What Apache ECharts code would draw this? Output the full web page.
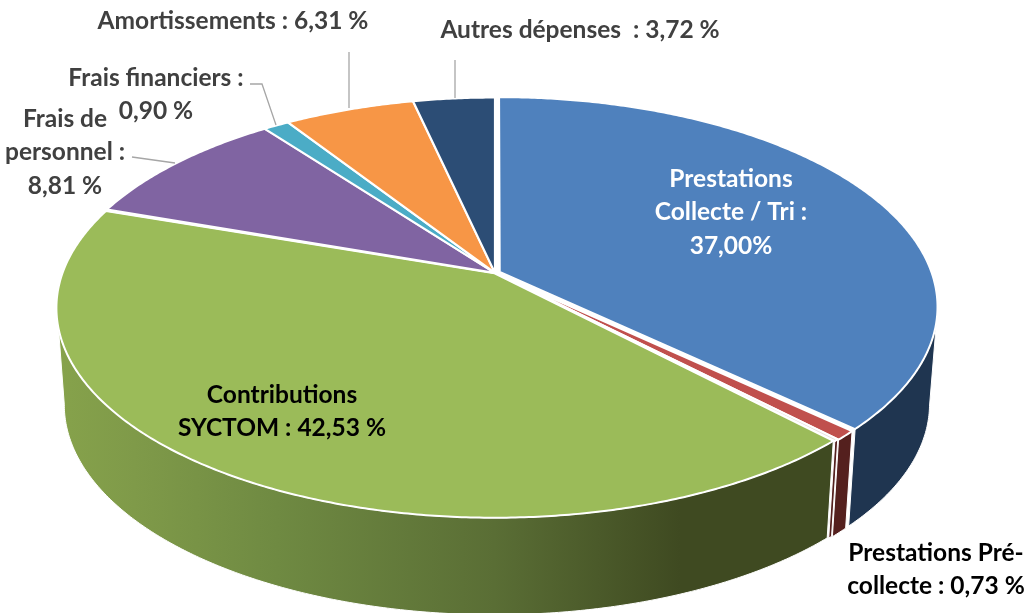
<!DOCTYPE html>
<html><head><meta charset="utf-8">
<style>html,body{margin:0;padding:0;background:#fff}#c{width:1025px;height:613px}</style>
<script src="https://cdn.jsdelivr.net/npm/echarts@6/dist/echarts.min.js"></script>
</head><body><div id="c"></div>
<script>
// ---- data ----
const categories = ['Prestations Collecte / Tri','Prestations Pré-collecte','(fin secteur)','Contributions SYCTOM','(fin secteur)','Frais de personnel','Frais financiers','Amortissements','Autres dépenses'];
const values = [37.00,0.73,0.15,42.53,0.10,8.81,0.90,6.31,3.72];
const labelLines = [
  ['Prestations','Collecte / Tri :','37,00%'],
  ['Contributions','SYCTOM : 42,53 %'],
  ['Prestations Pré-','collecte : 0,73 %'],
  ['Frais de','personnel :','8,81 %'],
  ['Frais financiers :','0,90 %'],
  ['Amortissements : 6,31 %'],
  ['Autres dépenses  : 3,72 %']
];
// ---- styles and layout ----
const topColors  = ['#4f81bd','#c0504d','#e8dcdc','#9bbb59','#e6e6e6','#8064a2','#4bacc6','#f79646','#2c4d75'];
const greenWall = new echarts.graphic.LinearGradient(60,0,680,0,[
  {offset:0,color:'#86a24b'},{offset:.12,color:'#7f9a49'},{offset:.35,color:'#6f8a42'},
  {offset:.7,color:'#5a6e35'},{offset:1,color:'#3f4a21'}],true);
const wallColors = ['#1f3550','#54201e','#54201e',greenWall,'#6b8a3a','#4d3c61','#2d6776','#94592a','#1a2e46'];
const explode    = [0.012,0.005,0.003,0.002,0.002,0.002,0.002,0.002,0.002];
const labelStyle = [
  {x:731,y:179,c:'#ffffff'},{x:282,y:395,c:'#000000'},{x:936,y:553,c:'#000000'},
  {x:65,y:119,c:'#404040'},{x:156,y:78,c:'#404040'},{x:233,y:21,c:'#404040'},{x:580,y:30,c:'#404040'}
];
const leaders = [
  [[132,157],[175,163]],
  [[250,84],[262,84],[276,125]],
  [[349,52],[349,108]],
  [[455,60],[455,98]]
];
const FONT = 'Lato, "Open Sans", sans-serif';
const LINE_H = 33.5, FS = 24.5;
// perspective of the disc, and its angular correction in the far left sector (drawn angle -> seen angle)
const CX=495, CY=273, A=432, B=204, K=0.1647, DEPTH=97, BOT_X=0.982;
const WALL_A=100, WALL_B_TOP=255, WALL_B_BOT=260.5;
const warpIn  = [0,132.9,289.1,320.75,323.98,346.64,360];
const warpOut = [0,133.2,289.1,323,327,347.3,360];

const total = values.reduce((s,v)=>s+v,0);
const cum = [0]; values.forEach(v=>cum.push(cum[cum.length-1]+v));
const ang = i => cum[i]/total*360;
function warp(t){
  for(let j=1;j<warpIn.length;j++) if(t<=warpIn[j]){
    return warpOut[j-1]+(t-warpIn[j-1])/(warpIn[j]-warpIn[j-1])*(warpOut[j]-warpOut[j-1]);
  }
  return t;
}
function proj(theta, r, off, bottom){
  const t=warp(theta)*Math.PI/180;
  const u=r*Math.sin(t)+off[0], v=-r*Math.cos(t)+off[1], w=1-K*v;
  const x=A*u/w, y=B*v/w;
  return bottom ? [CX+x*BOT_X, CY+y+DEPTH] : [CX+x, CY+y];
}
function offset(i){
  const m=(ang(i)+ang(i+1))/2*Math.PI/180;
  return [explode[i]*Math.sin(m), -explode[i]*Math.cos(m)];
}
function arc(a,b,off,bottom){
  const n=Math.max(2,Math.ceil(Math.abs(b-a)/0.5)), pts=[];
  for(let j=0;j<=n;j++) pts.push(proj(a+(b-a)*j/n,1,off,bottom));
  return pts;
}
function renderTop(params){
  const i=params.dataIndex, off=offset(i);
  const pts=[proj(0,0,off,false)].concat(arc(ang(i),ang(i+1),off,false));
  return {type:'polygon',shape:{points:pts},style:{fill:topColors[i],stroke:'#ffffff',lineWidth:2,lineJoin:'round'}};
}
function renderWall(params){
  const i=params.dataIndex, off=offset(i), a=ang(i), b=ang(i+1);
  const s=Math.max(a,WALL_A), eT=Math.min(b,WALL_B_TOP), eB=Math.min(b,WALL_B_BOT);
  if(s>=eT) return null;
  const pts=arc(s,eT,off,false).concat(arc(s,eB,off,true).reverse());
  return {type:'polygon',shape:{points:pts},style:{fill:wallColors[i],stroke:'#ffffff',lineWidth:1,lineJoin:'round'}};
}
function renderLabel(params){
  const i=params.dataIndex, st=labelStyle[i];
  return {type:'group',children:labelLines[i].map((t,j)=>({type:'text',
    style:{text:t,x:st.x,y:st.y+j*LINE_H,align:'center',verticalAlign:'middle',
      font:'bold '+FS+'px '+FONT,fill:st.c}}))};
}
function renderLeader(params){
  return {type:'polyline',shape:{points:leaders[params.dataIndex]},style:{stroke:'#a6a6a6',lineWidth:1.3,fill:null}};
}
const chart=echarts.init(document.getElementById('c'),null,{renderer:'canvas'});
const sliceData=categories.map((n,i)=>({name:n,value:values[i]}));
chart.setOption({
  animation:false,
  series:[
    {type:'custom',coordinateSystem:'none',z:1,renderItem:renderWall,data:sliceData,silent:true},
    {type:'custom',coordinateSystem:'none',z:2,renderItem:renderTop,data:sliceData,silent:true},
    {type:'custom',coordinateSystem:'none',z:3,renderItem:renderLeader,data:leaders.map((_,i)=>i),silent:true},
    {type:'custom',coordinateSystem:'none',z:4,renderItem:renderLabel,data:labelLines.map((_,i)=>i),silent:true}
  ]
});
</script></body></html>
